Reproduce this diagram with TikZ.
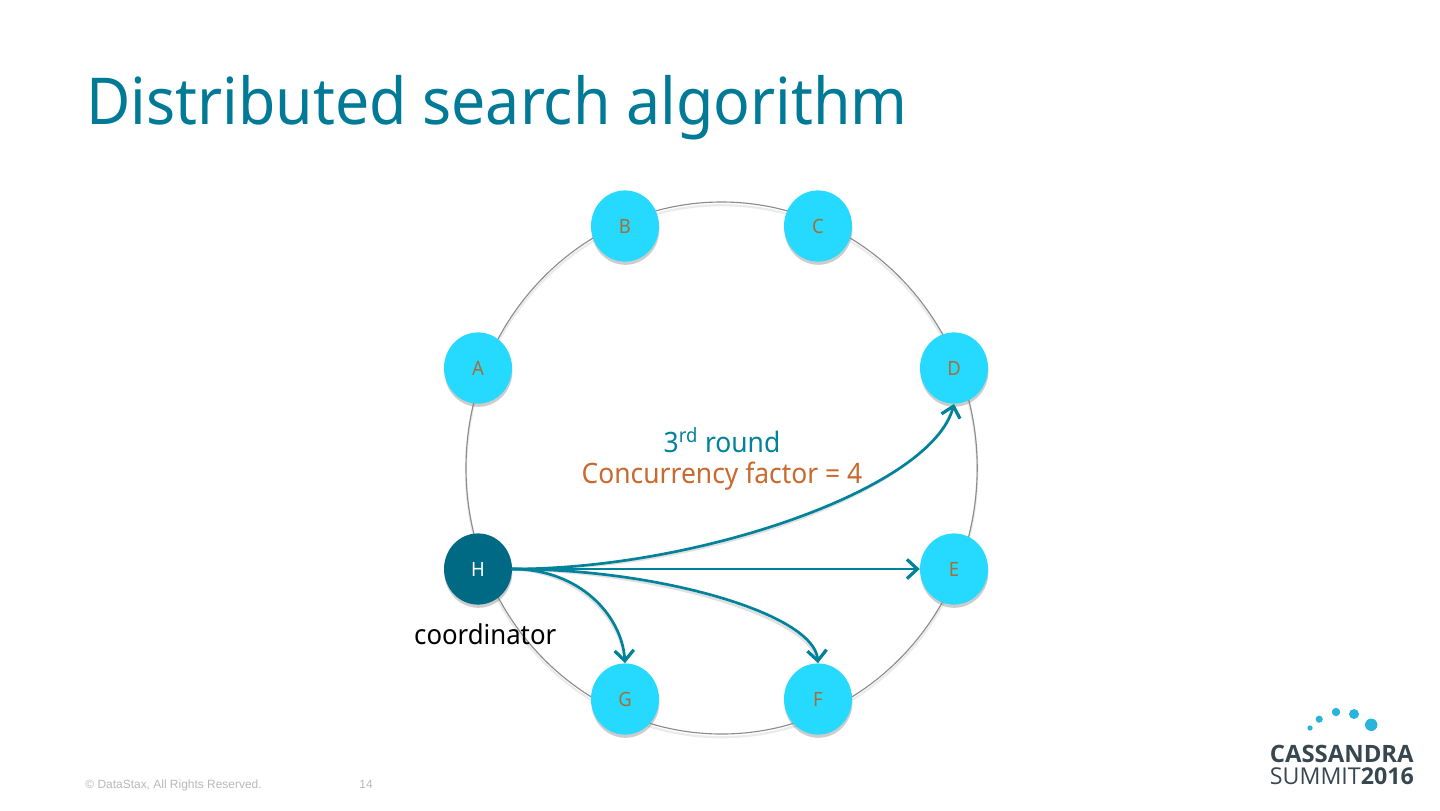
\documentclass[tikz,border=0pt]{standalone}
\usepackage{fontspec}
\setmainfont[FakeStretch=0.94]{Noto Sans}
\newfontfamily\footfont{Liberation Sans}
\newfontfamily\logofont{Open Sans}
\usetikzlibrary{shapes.geometric, arrows.meta, shadows}

\definecolor{titleblue}{HTML}{007A96}
\definecolor{nodecyan}{HTML}{26DAFF}
\definecolor{nodedark}{HTML}{006A85}
\definecolor{linkblue}{HTML}{00829B}
\definecolor{lettercol}{HTML}{A56F38}
\definecolor{factorcol}{HTML}{C8692E}
\definecolor{logotext}{HTML}{37474F}
\definecolor{logodot}{HTML}{29B4DC}

\begin{document}
\begin{tikzpicture}[
    % Estilos
    peer/.style={ellipse, fill=#1, text=lettercol, font=\fontsize{14}{16}\selectfont, minimum width=1.7cm, minimum height=1.78cm, inner sep=0pt, drop shadow={opacity=0.4, shadow xshift=0.01cm, shadow yshift=-0.08cm}},
    ring/.style={ellipse, draw=gray!90, line width=0.8pt, minimum width=12.78cm, minimum height=13.3cm, inner sep=0pt},
    ringshade/.style={ellipse, draw=black!8, line width=1.6pt, minimum width=12.78cm, minimum height=13.3cm, inner sep=0pt},
    link/.style={draw=linkblue, line width=1.9pt, -{Straight Barb[length=2.6mm, width=4.8mm, line width=2.3pt]}, line cap=round},
    linkshade/.style={draw=black!12, line width=1.9pt},
    label/.style={font=\fontsize{20}{24}\selectfont, align=center}
]
\useasboundingbox (0, 0) rectangle (36, -20.25);

% ---------------------------------------------------------
% 1. TITULO
% ---------------------------------------------------------
\node[anchor=base west, inner sep=0pt, text=titleblue, font=\fontsize{46}{50}\selectfont] (title) at (2.15, -3.12) {Distributed search algorithm};

% ---------------------------------------------------------
% 2. ANILLO Y NODOS
% ---------------------------------------------------------
\node[ringshade] (ringback) at (18.04, -11.78) {};
\node[ring] (ringline) at (18.04, -11.7) {};

\node[peer=nodecyan] (B) at (15.625, -5.65) {B};
\node[peer=nodecyan] (C) at (20.45, -5.65) {C};
\node[peer=nodecyan] (A) at (11.95, -9.2) {A};
\node[peer=nodecyan] (D) at (23.85, -9.2) {D};
\node[peer=nodecyan] (E) at (23.85, -14.225) {E};
\node[peer=nodecyan] (F) at (20.45, -17.475) {F};
\node[peer=nodecyan] (G) at (15.625, -17.475) {G};
\node[peer=nodedark, text=white] (H) at (11.95, -14.225) {H};

% ---------------------------------------------------------
% 3. CONEXIONES
% ---------------------------------------------------------
\begin{scope}[yshift=-0.08cm]
\draw[linkshade] (H.east) .. controls (17.5, -14.225) and (23.3, -12.2) .. (D.south);
\draw[linkshade] (H.east) -- (E.west);
\draw[linkshade] (H.east) .. controls (16.5, -14.225) and (20.35, -15.35) .. (F.north);
\draw[linkshade] (H.east) .. controls (14.5, -14.225) and (15.55, -15.4) .. (G.north);
\end{scope}
\draw[link] (H.east) .. controls (17.5, -14.225) and (23.3, -12.2) .. (D.south);
\draw[link] (H.east) -- (E.west);
\draw[link] (H.east) .. controls (16.5, -14.225) and (20.35, -15.35) .. (F.north);
\draw[link] (H.east) .. controls (14.5, -14.225) and (15.55, -15.4) .. (G.north);

% ---------------------------------------------------------
% 4. TEXTOS
% ---------------------------------------------------------
\node[label, text=linkblue] (round) at (18.05, -11) {3\textsuperscript{rd} round};
\node[label, text=factorcol] (factor) at (18.05, -11.9) {Concurrency factor = 4};
\node[label, text=black, font=\fontsize{19.5}{23}\selectfont] (coord) at (12.13, -15.85) {coordinator};

\node[anchor=base west, inner sep=0pt, text=black!28, font=\footfont\fontsize{8.5}{10}\selectfont] (copyright) at (2.13, -19.7) {© DataStax, All Rights Reserved.};
\node[anchor=base west, inner sep=0pt, text=black!28, font=\footfont\fontsize{8.5}{10}\selectfont] (page) at (8.98, -19.7) {14};

% ---------------------------------------------------------
% 5. LOGO
% ---------------------------------------------------------
\foreach \x/\y/\d [count=\i] in {32.75/-18.2/0.13, 32.98/-17.98/0.18, 33.4/-17.8/0.21, 33.85/-17.85/0.25, 34.28/-18.12/0.31}
  \node[circle, fill=logodot, minimum size=\d cm, inner sep=0pt] (dot\i) at (\x, \y) {};

\node[anchor=base east, inner sep=0pt, text=logotext, font=\logofont\bfseries\fontsize{17}{19}\selectfont] (cassandra) at (35.35, -19.05) {CASSANDRA};
\node[anchor=base east, inner sep=0pt, text=logotext, font=\logofont\fontsize{16.5}{19}\selectfont] (summit) at (35.35, -19.62) {SUMMIT\textbf{2016}};

\end{tikzpicture}
\end{document}
